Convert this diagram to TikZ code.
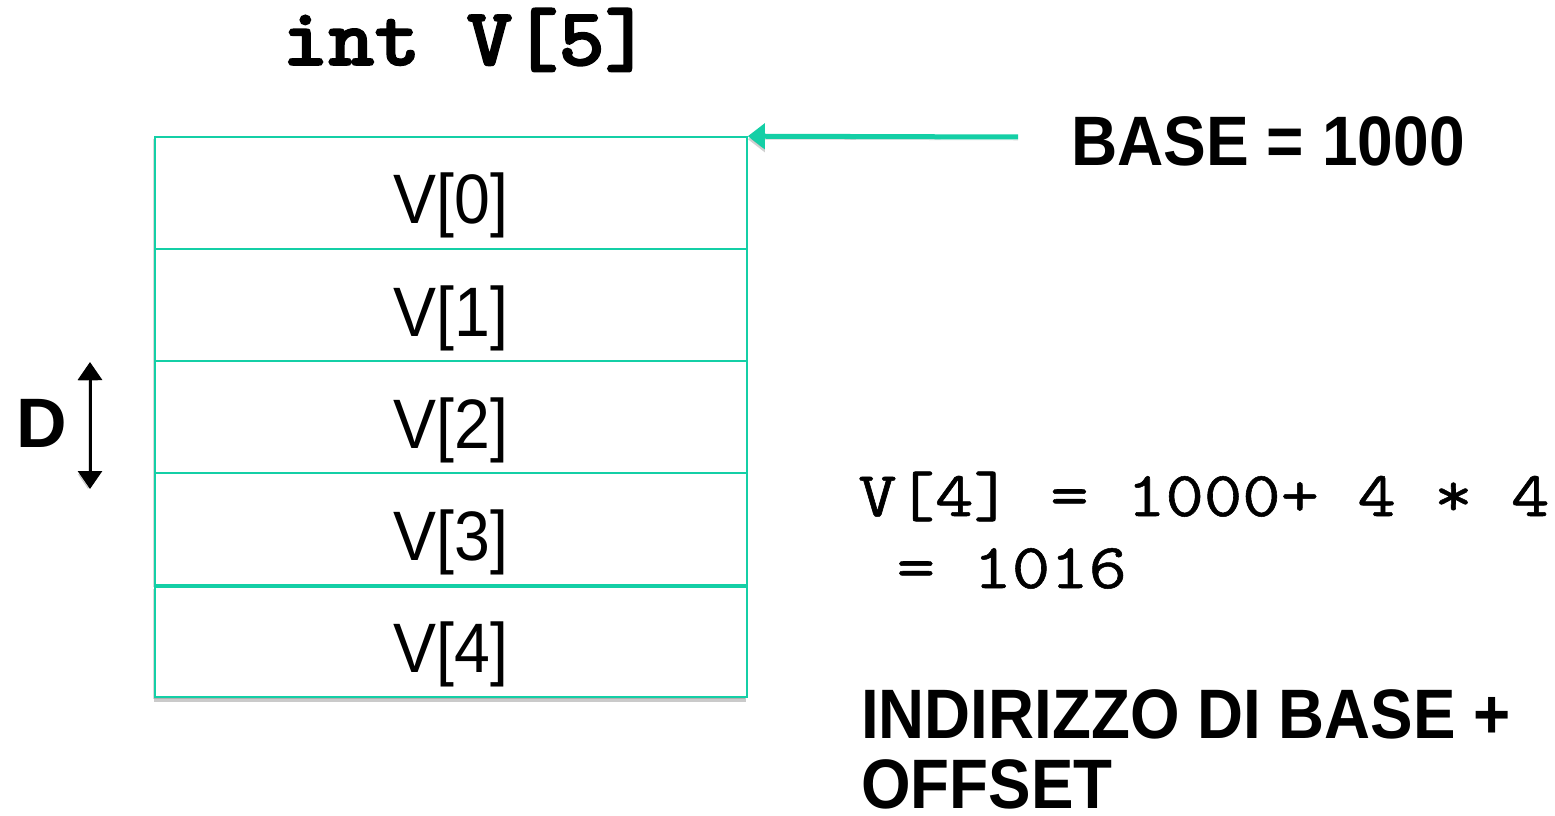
\documentclass[tikz,border=0pt]{standalone}
\usepackage{fontspec}
\setmainfont{Liberation Sans}
\newfontfamily\codefont{Latin Modern Mono}[FakeBold=0.8]
\newfontfamily\codeboldfont{lmmonolt10-bold.otf}[FakeBold=2]
\usetikzlibrary{arrows.meta,shadows}
\definecolor{arraycol}{HTML}{14CFA6}
\tikzset{
  cell/.style={draw=arraycol, line width=1.2pt, minimum width=444pt, minimum height=84pt,
    inner sep=0pt, fill=white,
    drop shadow={shadow xshift=-1.5pt, shadow yshift=-1.5pt, opacity=0.25, fill=black!60}},
  lastcell/.style={cell, line width=1.8pt, minimum height=82.5pt,
    drop shadow={shadow xshift=-0.75pt, shadow yshift=-3.75pt, opacity=0.35, fill=black!60}},
  celltext/.style={anchor=base, inner sep=0pt,
    font=\fontsize{52.5pt}{60pt}\selectfont},
  boldlabel/.style={anchor=base west, inner sep=0pt,
    font=\fontsize{52.5pt}{60pt}\selectfont\bfseries},
  pointer/.style={draw=arraycol, line width=3.75pt,
    -{Triangle[length=12.75pt, width=18.75pt]},
    preaction={draw=black, opacity=0.18, transform canvas={yshift=-2.25pt}}},
  span/.style={draw=black, line width=2.25pt,
    {Triangle[length=13.5pt, width=18pt]}-{Triangle[length=13.5pt, width=18pt]},
    preaction={draw=black, opacity=0.15, transform canvas={xshift=-1.5pt, yshift=-1.5pt}}},
}
\begin{document}
\begin{tikzpicture}[x=0.75pt, y=-0.75pt]
\useasboundingbox (0,0) rectangle (1555,816);

% declaration
\node[anchor=base west, inner sep=0pt, font=\codeboldfont\fontsize{61.5pt}{70pt}\selectfont]
  (decl) at (282,65) {\scalebox{1.07}[1]{int V[5]}};

% array cells
\node[cell] (c0) at (451,193) {};
\node[cell] (c1) at (451,305) {};
\node[cell] (c2) at (451,417) {};
\node[cell] (c3) at (451,529) {};
\node[lastcell] (c4) at (451,642) {};

\node[celltext] (t0) at (451,224) {\scalebox{0.92}[1]{V[0]}};
\node[celltext] (t1) at (451,336) {\scalebox{0.92}[1]{V[1]}};
\node[celltext] (t2) at (451,448) {\scalebox{0.92}[1]{V[2]}};
\node[celltext] (t3) at (451,560) {\scalebox{0.92}[1]{V[3]}};
\node[celltext] (t4) at (451,672) {\scalebox{0.92}[1]{V[4]}};

% base address pointer
\node[boldlabel] (base) at (1071,166) {\scalebox{0.915}[1]{BASE = 1000}};
\coordinate (ptrstart) at (1018,137);
\draw[pointer] (ptrstart) -- (c0.north east);

% element size
\node[boldlabel] (dlabel) at (16,447) {D};
\coordinate (dtop) at (90,362);
\coordinate (dbot) at (90,489);
\draw[span] (dtop) -- (dbot);

% address computation
\node[anchor=base west, inner sep=0pt, font=\codefont\fontsize{48pt}{56pt}\selectfont]
  (calc1) at (858,516) {\scalebox{1.165}[1]{V[4] = 1000+ 4 * 4}};
\node[anchor=base west, inner sep=0pt, font=\codefont\fontsize{48pt}{56pt}\selectfont]
  (calc2) at (858,588) {\scalebox{1.165}[1]{\ = 1016}};

\node[boldlabel] (rule1) at (861,738) {\scalebox{0.91}[1]{INDIRIZZO DI BASE +}};
\node[boldlabel] (rule2) at (861,808) {\scalebox{0.91}[1]{OFFSET}};
\end{tikzpicture}
\end{document}
